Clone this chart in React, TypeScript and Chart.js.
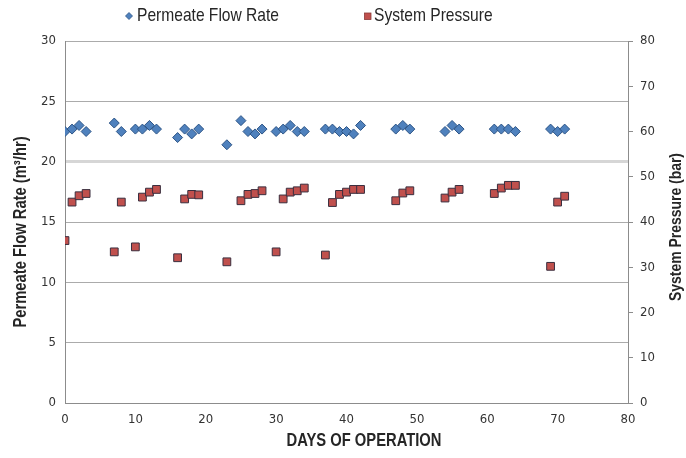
import React, { useEffect, useRef } from "react";
import { Chart, registerables } from "chart.js";

Chart.register(...registerables);

// ---- data ----
const days = [0, 1, 2, 3, 7, 8, 10, 11, 12, 13, 16, 17, 18, 19, 23, 25, 26, 27, 28, 30, 31, 32, 33, 34, 37, 38, 39, 40, 41, 42, 47, 48, 49, 54, 55, 56, 61, 62, 63, 64, 69, 70, 71];
const flowRate = [22.5, 22.7, 23.0, 22.5, 23.2, 22.5, 22.7, 22.7, 23.0, 22.7, 22.0, 22.7, 22.3, 22.7, 21.4, 23.4, 22.5, 22.3, 22.7, 22.5, 22.7, 23.0, 22.5, 22.5, 22.7, 22.7, 22.5, 22.5, 22.3, 23.0, 22.7, 23.0, 22.7, 22.5, 23.0, 22.7, 22.7, 22.7, 22.7, 22.5, 22.7, 22.5, 22.7];
const pressure = [35.9, 44.4, 45.8, 46.3, 33.4, 44.4, 34.5, 45.5, 46.6, 47.2, 32.1, 45.1, 46.1, 46.0, 31.2, 44.7, 46.1, 46.3, 46.9, 33.4, 45.1, 46.6, 46.9, 47.5, 32.7, 44.3, 46.1, 46.6, 47.2, 47.2, 44.7, 46.4, 46.9, 45.3, 46.6, 47.2, 46.3, 47.5, 48.1, 48.1, 30.2, 44.4, 45.7];

const seriesLabels = ["Permeate Flow Rate", "System Pressure"];
const xTitle = "DAYS OF OPERATION";
const yLeftTitle = "Permeate Flow Rate (m³/hr)";
const yRightTitle = "System Pressure (bar)";

const TICK_FONT = '"DejaVu Sans Condensed", "Liberation Sans", sans-serif';
const TEXT_FONT = '"Liberation Sans", Arial, sans-serif';
const NARROW = 0.82;
const BLUE = "#4F81BD";
const BLUE_BORDER = "#2C5486";
const RED = "#C0504D";
const RED_BORDER = "#3A2F3F";
const TEXT = "#262626";

function narrowText(ctx: any, text: string, x: number, y: number, rot: number, align: string) {
  ctx.save();
  ctx.translate(x, y);
  if (rot) ctx.rotate(rot);
  ctx.scale(NARROW, 1);
  ctx.textAlign = align;
  ctx.fillText(text, 0, 0);
  ctx.restore();
}

const overlayPlugin = {
  id: "overlay",
  afterDraw(chart: any) {
    const { ctx } = chart;
    ctx.save();
    ctx.textBaseline = "middle";
    // legend: diamond marker
    ctx.beginPath();
    ctx.moveTo(129 - 3.5, 16);
    ctx.lineTo(129, 16 - 3.5);
    ctx.lineTo(129 + 3.5, 16);
    ctx.lineTo(129, 16 + 3.5);
    ctx.closePath();
    ctx.fillStyle = BLUE;
    ctx.fill();
    ctx.strokeStyle = BLUE_BORDER;
    ctx.lineWidth = 0.8;
    ctx.stroke();
    ctx.font = `19px ${TEXT_FONT}`;
    ctx.fillStyle = TEXT;
    narrowText(ctx, seriesLabels[0], 137, 16, 0, "left");
    // legend: square marker
    ctx.fillStyle = RED;
    ctx.fillRect(364.5, 13, 6.5, 6.5);
    ctx.strokeStyle = "#8a3a38";
    ctx.strokeRect(364.5, 13, 6.5, 6.5);
    ctx.fillStyle = TEXT;
    narrowText(ctx, seriesLabels[1], 374, 16, 0, "left");

    // axis titles
    ctx.font = `bold 18px ${TEXT_FONT}`;
    narrowText(ctx, xTitle, 364, 441, 0, "center");
    narrowText(ctx, yLeftTitle, 21, 232, -Math.PI / 2, "center");
    ctx.font = `bold 17px ${TEXT_FONT}`;
    narrowText(ctx, yRightTitle, 676, 227, -Math.PI / 2, "center");

    ctx.restore();
  },
};

export default function App() {
  const canvasRef = useRef<HTMLCanvasElement | null>(null);

  useEffect(() => {
    document.body.style.margin = "0";
    const canvas = canvasRef.current;
    if (!canvas) return;
    const tickFont = { family: TICK_FONT, size: 13 };
    const chart = new Chart(canvas, {
      type: "scatter",
      data: {
        datasets: [
          {
            label: seriesLabels[0],
            data: days.map((d, i) => ({ x: d, y: flowRate[i] })),
            yAxisID: "y",
            pointStyle: "rectRot",
            pointRadius: 5,
            pointBackgroundColor: BLUE,
            pointBorderColor: BLUE_BORDER,
            pointBorderWidth: 1,
            showLine: false,
          },
          {
            label: seriesLabels[1],
            data: days.map((d, i) => ({ x: d, y: pressure[i] })),
            yAxisID: "y1",
            pointStyle: "rect",
            pointRadius: 5.5,
            pointBackgroundColor: RED,
            pointBorderColor: RED_BORDER,
            pointBorderWidth: 1,
            showLine: false,
          },
        ],
      },
      options: {
        responsive: false,
        animation: false,
        layout: { padding: { top: 41, left: 0, right: 0, bottom: 0 } },
        plugins: {
          legend: { display: false },
          tooltip: { enabled: false },
          title: { display: false },
        },
        scales: {
          x: {
            type: "linear",
            min: 0,
            max: 80,
            ticks: { stepSize: 10, padding: 9, color: "#333", font: tickFont },
            grid: { display: false, drawTicks: false },
            border: { display: true, color: "#8c8c8c", width: 1 },
            afterFit: (s: any) => {
              s.height = 55;
            },
          },
          y: {
            type: "linear",
            position: "left",
            min: 0,
            max: 30,
            ticks: { stepSize: 5, padding: 9, color: "#333", font: tickFont },
            grid: {
              drawTicks: false,
              color: (c: any) => (c.tick && c.tick.value === 20 ? "#d6d6d6" : "#ababab"),
              lineWidth: (c: any) => (c.tick && c.tick.value === 20 ? 3 : 1),
            },
            border: { display: true, color: "#8c8c8c", width: 1 },
            afterFit: (s: any) => {
              s.width = 65;
            },
          },
          y1: {
            type: "linear",
            position: "right",
            min: 0,
            max: 80,
            ticks: { stepSize: 10, padding: 7, color: "#333", font: tickFont },
            grid: { drawOnChartArea: false, drawTicks: true, tickLength: 5, color: "#8c8c8c" },
            border: { display: true, color: "#8c8c8c", width: 1 },
            afterFit: (s: any) => {
              s.width = 58;
            },
          },
        },
      },
      plugins: [overlayPlugin],
    });
    return () => chart.destroy();
  }, []);

  return (
    <div style={{ width: 686, height: 458, background: "#fff" }}>
      <canvas ref={canvasRef} width={686} height={458} style={{ display: "block" }} />
    </div>
  );
}
